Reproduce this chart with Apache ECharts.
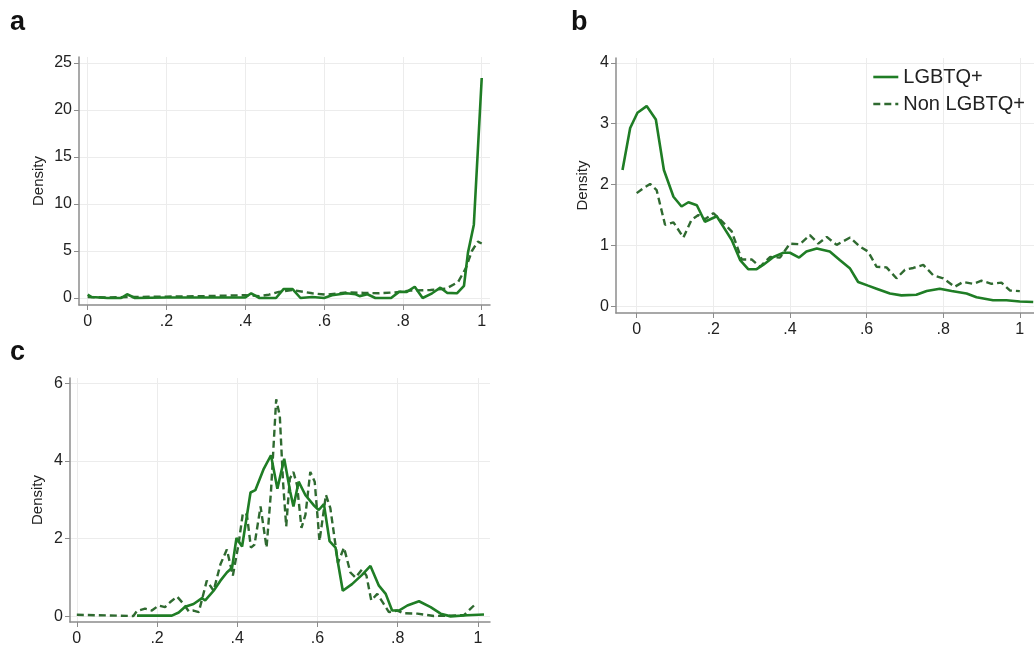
<!DOCTYPE html>
<html>
<head>
<meta charset="utf-8">
<script src="https://cdn.jsdelivr.net/npm/echarts@6/dist/echarts.min.js"></script>
<style>
html,body{margin:0;padding:0;background:#fff;}
#chart{width:1034px;height:647px;}
</style>
</head>
<body>
<div id="chart"></div>
<script>
// ---- Data ----
const xTicks = [0, 0.2, 0.4, 0.6, 0.8, 1];
const aYTicks = [0, 5, 10, 15, 20, 25];
const bYTicks = [0, 1, 2, 3, 4];
const cYTicks = [0, 2, 4, 6];
const seriesNames = ['LGBTQ+', 'Non LGBTQ+'];
const panelLabels = ['a', 'b', 'c'];

// Panel a
const aLgbtqX = [0, 0.01, 0.05, 0.085, 0.1, 0.12, 0.2, 0.3, 0.4, 0.415, 0.436, 0.478, 0.497, 0.52, 0.54, 0.57, 0.6, 0.62, 0.657, 0.68, 0.69, 0.71, 0.73, 0.77, 0.79, 0.81, 0.83, 0.85, 0.874, 0.895, 0.912, 0.937, 0.955, 0.965, 0.98, 1.0];
const aLgbtqY = [0.35, 0.1, 0, 0, 0.4, 0, 0.05, 0.05, 0.07, 0.5, 0, 0, 0.95, 0.95, 0, 0.1, 0, 0.3, 0.5, 0.4, 0.2, 0.4, 0, 0, 0.65, 0.65, 1.2, 0, 0.5, 1.1, 0.55, 0.5, 1.3, 4.8, 7.8, 23.4];
const aNonX = [0, 0.05, 0.1, 0.2, 0.3, 0.4, 0.436, 0.46, 0.485, 0.52, 0.57, 0.605, 0.657, 0.7, 0.74, 0.78, 0.82, 0.87, 0.91, 0.94, 0.96, 0.975, 0.99, 1.0];
const aNonY = [0.1, 0.05, 0.1, 0.15, 0.2, 0.3, 0.2, 0.35, 0.65, 0.85, 0.5, 0.35, 0.6, 0.55, 0.5, 0.6, 0.8, 0.85, 1.0, 1.7, 3.2, 5.0, 6.0, 5.8];

// Panel b
const bLgbtqX = [-0.037, -0.017, 0.002, 0.026, 0.05, 0.071, 0.096, 0.117, 0.135, 0.157, 0.178, 0.209, 0.226, 0.248, 0.27, 0.291, 0.313, 0.33, 0.357, 0.383, 0.4, 0.424, 0.443, 0.47, 0.504, 0.53, 0.557, 0.578, 0.604, 0.626, 0.661, 0.691, 0.73, 0.757, 0.791, 0.822, 0.861, 0.887, 0.93, 0.965, 1.0, 1.035];
const bLgbtqY = [2.24, 2.93, 3.18, 3.29, 3.07, 2.24, 1.8, 1.64, 1.71, 1.66, 1.39, 1.48, 1.31, 1.09, 0.76, 0.61, 0.61, 0.68, 0.81, 0.88, 0.88, 0.8, 0.9, 0.95, 0.9, 0.76, 0.62, 0.4, 0.34, 0.29, 0.21, 0.18, 0.19, 0.25, 0.29, 0.25, 0.21, 0.15, 0.1, 0.1, 0.08, 0.07];
const bNonX = [0, 0.017, 0.035, 0.052, 0.074, 0.096, 0.122, 0.143, 0.161, 0.178, 0.2, 0.222, 0.248, 0.274, 0.3, 0.322, 0.348, 0.374, 0.4, 0.426, 0.452, 0.474, 0.496, 0.522, 0.557, 0.583, 0.604, 0.626, 0.652, 0.678, 0.7, 0.722, 0.748, 0.774, 0.8, 0.83, 0.852, 0.878, 0.9, 0.926, 0.952, 0.974, 1.0];
const bNonY = [1.86, 1.94, 2.01, 1.91, 1.34, 1.38, 1.13, 1.42, 1.5, 1.43, 1.53, 1.4, 1.23, 0.77, 0.77, 0.65, 0.81, 0.8, 1.03, 1.02, 1.17, 1.03, 1.14, 1.01, 1.13, 0.98, 0.9, 0.65, 0.64, 0.46, 0.6, 0.63, 0.68, 0.51, 0.46, 0.32, 0.4, 0.37, 0.42, 0.37, 0.39, 0.26, 0.25];

// Panel c
const cLgbtqX = [0.15, 0.237, 0.254, 0.27, 0.291, 0.312, 0.32, 0.341, 0.358, 0.374, 0.387, 0.398, 0.412, 0.433, 0.445, 0.466, 0.484, 0.5, 0.517, 0.532, 0.54, 0.553, 0.57, 0.59, 0.603, 0.616, 0.63, 0.645, 0.651, 0.663, 0.686, 0.711, 0.732, 0.753, 0.77, 0.786, 0.803, 0.824, 0.853, 0.882, 0.907, 0.932, 0.973, 1.015];
const cLgbtqY = [0.02, 0.02, 0.1, 0.25, 0.32, 0.47, 0.41, 0.66, 0.92, 1.13, 1.25, 2.02, 1.8, 3.19, 3.25, 3.8, 4.15, 3.29, 4.06, 3.21, 2.83, 3.47, 3.12, 2.87, 2.74, 2.89, 1.94, 1.77, 1.38, 0.66, 0.83, 1.07, 1.3, 0.79, 0.58, 0.15, 0.15, 0.28, 0.39, 0.24, 0.07, 0, 0.03, 0.05];
const cNonX = [0, 0.141, 0.15, 0.17, 0.187, 0.204, 0.22, 0.233, 0.25, 0.266, 0.279, 0.291, 0.304, 0.324, 0.341, 0.358, 0.374, 0.389, 0.403, 0.414, 0.424, 0.434, 0.443, 0.458, 0.473, 0.484, 0.497, 0.506, 0.514, 0.522, 0.531, 0.54, 0.549, 0.56, 0.57, 0.582, 0.593, 0.605, 0.621, 0.632, 0.651, 0.666, 0.682, 0.695, 0.711, 0.722, 0.734, 0.749, 0.765, 0.778, 0.799, 0.815, 0.849, 0.89, 0.965, 0.99];
const cNonY = [0.04, 0.01, 0.14, 0.2, 0.15, 0.28, 0.24, 0.37, 0.51, 0.32, 0.13, 0.15, 0.11, 0.92, 0.66, 1.34, 1.72, 1.05, 1.85, 2.66, 2.62, 1.77, 1.85, 2.83, 1.77, 3.21, 5.59, 5.17, 3.47, 2.32, 3.55, 3.72, 3.38, 2.28, 2.62, 3.72, 3.47, 1.94, 3.13, 2.79, 1.38, 1.77, 1.13, 1.0, 1.21, 1.05, 0.41, 0.58, 0.32, 0.11, 0.15, 0.08, 0.07, 0.01, 0.03, 0.28];

// ---- Build chart ----
const zip = (xs, ys) => xs.map((x, i) => [x, ys[i]]);
const SOLID = '#1f7d25';
const DASHED = '#2f6a30';
const FONT = 'Liberation Sans, Arial, sans-serif';

const grids = [
  { left: 79, top: 57, width: 411, height: 248 },
  { left: 616, top: 58, width: 418, height: 255 },
  { left: 70, top: 378, width: 420, height: 247 }
];
const xRanges = [[-0.022, 1.021], [-0.054, 1.037], [-0.017, 1.03]];
const yRanges = [[-0.745, 25.64], [-0.11, 4.08], [-0.145, 6.14]];
const yTicksAll = [aYTicks, bYTicks, cYTicks];
const nameGaps = [33, 26, 25];

const fmtX = v => (v === 0 ? '0' : v === 1 ? '1' : String(+v.toFixed(2)).replace(/^0/, ''));

const xAxes = grids.map((g, i) => ({
  type: 'value', gridIndex: i, min: xRanges[i][0], max: xRanges[i][1],
  axisLine: { show: true, onZero: false, lineStyle: { color: '#8c8c8c', width: 1.5 } },
  axisTick: { show: true, length: 5, lineStyle: { color: '#8c8c8c', width: 1 }, customValues: xTicks },
  axisLabel: { customValues: xTicks, formatter: fmtX, fontSize: 16, color: '#222', fontFamily: FONT, margin: 9 },
  splitLine: { show: true, lineStyle: { color: '#ececec', width: 1 } }
}));
const yAxes = grids.map((g, i) => ({
  type: 'value', gridIndex: i, min: yRanges[i][0], max: yRanges[i][1],
  name: 'Density', nameLocation: 'middle', nameGap: nameGaps[i], nameRotate: 90,
  nameTextStyle: { fontSize: 15, color: '#222', fontFamily: FONT },
  axisLine: { show: true, onZero: false, lineStyle: { color: '#8c8c8c', width: 1.5 } },
  axisTick: { show: true, length: 5, lineStyle: { color: '#8c8c8c', width: 1 }, customValues: yTicksAll[i] },
  axisLabel: { customValues: yTicksAll[i], fontSize: 16, color: '#222', fontFamily: FONT, margin: 7 },
  splitLine: { show: true, lineStyle: { color: '#ececec', width: 1 } }
}));

const panelData = [
  [zip(aLgbtqX, aLgbtqY), zip(aNonX, aNonY)],
  [zip(bLgbtqX, bLgbtqY), zip(bNonX, bNonY)],
  [zip(cLgbtqX, cLgbtqY), zip(cNonX, cNonY)]
];
const series = [];
panelData.forEach((pd, i) => {
  series.push({
    name: seriesNames[1], type: 'line', xAxisIndex: i, yAxisIndex: i, data: pd[1],
    symbol: 'none', lineStyle: { color: DASHED, width: 2.4, type: [7, 4] }, itemStyle: { color: DASHED },
    animation: false, z: 2
  });
  series.push({
    name: seriesNames[0], type: 'line', xAxisIndex: i, yAxisIndex: i, data: pd[0],
    symbol: 'none', lineStyle: { color: SOLID, width: 2.6 }, itemStyle: { color: SOLID },
    animation: false, z: 3
  });
});

const labelPos = [[10, 9], [571, 9], [10, 339]];
const titles = panelLabels.map((t, i) => ({
  text: t, left: labelPos[i][0], top: labelPos[i][1], padding: 0,
  textStyle: { fontSize: 27, fontWeight: 'bold', color: '#111', fontFamily: FONT }
}));

const chart = echarts.init(document.getElementById('chart'), null, { renderer: 'canvas' });
chart.setOption({
  backgroundColor: '#fff',
  animation: false,
  title: titles,
  legend: {
    data: seriesNames, orient: 'vertical', left: 867, top: 62,
    itemWidth: 25, itemHeight: 14, itemGap: 7,
    itemStyle: { opacity: 0 },
    lineStyle: { width: 2.6 },
    textStyle: { fontSize: 20, color: '#222', fontFamily: FONT }
  },
  grid: grids,
  xAxis: xAxes,
  yAxis: yAxes,
  series: series
});
</script>
</body>
</html>
